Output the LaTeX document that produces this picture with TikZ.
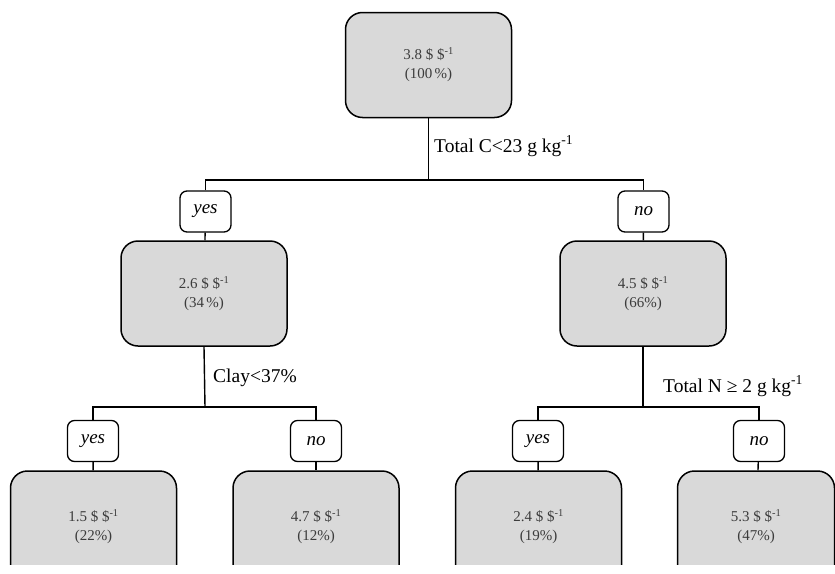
\documentclass[tikz,border=0pt]{standalone}
\usepackage{fontspec}
\setmainfont{Liberation Serif}
\definecolor{boxfill}{HTML}{D9D9D9}
\definecolor{boxtext}{HTML}{3C3C3C}
\begin{document}
\begin{tikzpicture}[x=1pt,y=-1pt,
  bigbox/.style={draw=black,line width=1.5pt,fill=boxfill,rounded corners=17pt,
    minimum width=166pt,minimum height=105pt,align=center,text=boxtext,
    font=\fontsize{15}{19}\selectfont,inner sep=0pt},
  ansbox/.style={draw=black,line width=1.3pt,fill=white,rounded corners=7pt,
    minimum width=51pt,minimum height=41pt,inner sep=0pt,
    font=\fontsize{19}{20}\selectfont\itshape},
  conn/.style={line width=1.4pt},
  splitlbl/.style={anchor=base west,inner sep=0pt,font=\fontsize{19.5}{21}\selectfont}]
\useasboundingbox (0,0) rectangle (835,573);
\clip (0,0) rectangle (835,564);
% nodes
\node[bigbox] (top) at (428.5,65) {3.8 \$ \$\textsuperscript{-1}\\(100\,\%)};
\node[ansbox] (yesA) at (205.5,211.5) {yes};
\node[ansbox] (noA) at (643.5,211.5) {no};
\node[bigbox] (boxL) at (204,293.5) {2.6 \$ \$\textsuperscript{-1}\\(34\,\%)};
\node[bigbox] (boxR) at (643,293.5) {4.5 \$ \$\textsuperscript{-1}\\(66\%)};
\node[ansbox] (yesB) at (93,441) {yes};
\node[ansbox] (noB) at (316,441) {no};
\node[ansbox] (yesC) at (538,441) {yes};
\node[ansbox] (noC) at (759,441) {no};
\node[bigbox,minimum height=112pt] (leafA) at (93.5,527) {1.5 \$ \$\textsuperscript{-1}\\(22\%)};
\node[bigbox,minimum height=112pt] (leafB) at (316,527) {4.7 \$ \$\textsuperscript{-1}\\(12\%)};
\node[bigbox,minimum height=112pt] (leafC) at (538.5,527) {2.4 \$ \$\textsuperscript{-1}\\(19\%)};
\node[bigbox,minimum height=112pt,minimum width=157pt] (leafD) at (756,527) {5.3 \$ \$\textsuperscript{-1}\\(47\%)};
% split labels
\node[splitlbl] (lblC) at (434,152) {Total C<23 g kg\textsuperscript{-1}};
\node[splitlbl] (lblClay) at (213,382) {Clay<37\%};
\node[splitlbl] (lblN) at (663,392) {Total N ≥ 2 g kg\textsuperscript{-1}};
% junctions
\coordinate (j1) at (428.5,180);
\coordinate (j2) at (205,407);
\coordinate (j3) at (643,407);
% connectors
\draw[conn] (top.south) -- (j1);
\draw[conn] (yesA.north) |- (j1) -| (noA.north);
\draw[conn] (yesA) -- (boxL);
\draw[conn] (noA) -- (boxR);
\draw[conn] (boxL.south) -- (j2);
\draw[conn] (yesB.north) |- (j2) -| (noB.north);
\draw[conn] (boxR.south) -- (j3);
\draw[conn] (yesC.north) |- (j3) -| (noC.north);
\draw[conn] (yesB) -- (leafA);
\draw[conn] (noB) -- (leafB);
\draw[conn] (yesC) -- (leafC);
\draw[conn] (noC) -- (leafD);
\end{tikzpicture}
\end{document}
